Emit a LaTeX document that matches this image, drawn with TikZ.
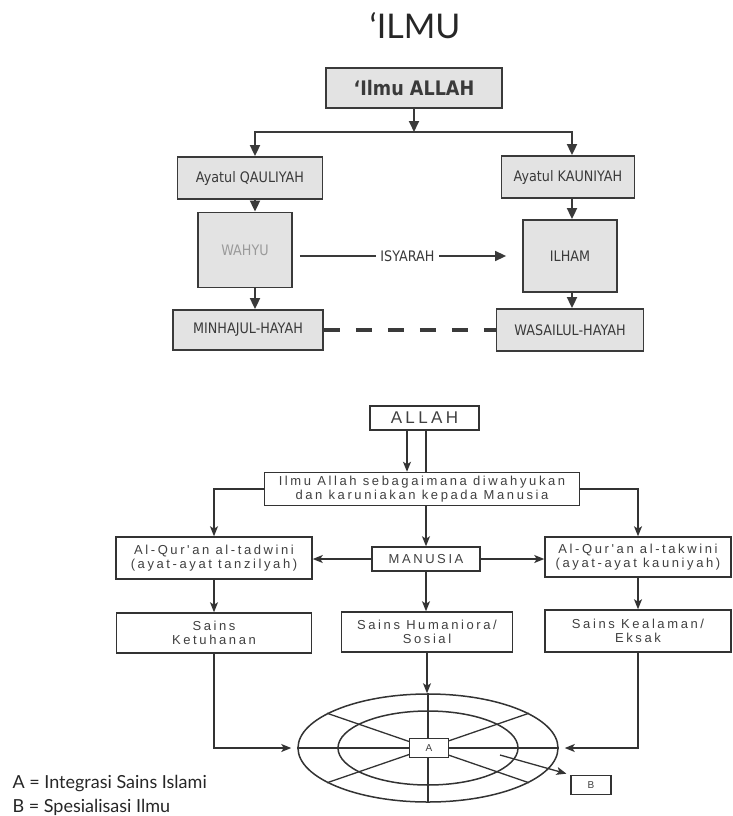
\documentclass[tikz,border=0pt]{standalone}
\usepackage{fontspec}
\setmainfont{Liberation Sans}
\newfontfamily\verd[FakeStretch=0.88]{DejaVu Sans}
\newfontfamily\spaced[LetterSpace=20]{Liberation Sans}
\newfontfamily\gill{Lato}
\usepackage{tikz}
\usetikzlibrary{shapes,arrows.meta,positioning}
\definecolor{boxgray}{HTML}{E3E3E3}
\definecolor{inkgray}{HTML}{3A3A3A}
\definecolor{lightink}{HTML}{9A9A9A}

\begin{document}
\begin{tikzpicture}[
    x=1pt, y=-1pt,
    topbox/.style={draw=inkgray, fill=boxgray, line width=1.8pt, inner sep=0pt,
        text=inkgray, font=\verd\fontsize{14.5}{17}\selectfont},
    botbox/.style={draw=black!80, fill=white, line width=1.5pt, inner sep=0pt,
        align=center, text=black!75, font=\spaced\fontsize{13}{14}\selectfont},
    toparrow/.style={-{Triangle[length=11pt,width=10pt]}, draw=inkgray, line width=1.8pt},
    botarrow/.style={-{Stealth[length=10pt,width=8pt,inset=2.5pt]}, draw=black!80, line width=1.3pt},
    botline/.style={draw=black!80, line width=1.3pt},
    ring/.style={ellipse, draw=black!80, line width=1.5pt, inner sep=0pt}
]
\useasboundingbox (0,0) rectangle (732,816);

% upper chart
\node[anchor=base, text=black!85, font=\gill\fontsize{34}{40}\selectfont] (title) at (415,39) {‘ILMU};
\node[topbox, minimum width=176pt, minimum height=40pt, font=\verd\bfseries\fontsize{20}{24}\selectfont] (ilmuallah) at (414,88) {‘Ilmu ALLAH};
\node[topbox, minimum width=145pt, minimum height=42pt] (qauliyah) at (250,178) {Ayatul QAULIYAH};
\node[topbox, minimum width=133pt, minimum height=42pt] (kauniyah) at (568,177) {Ayatul KAUNIYAH};
\node[topbox, minimum width=94pt, minimum height=75pt, text=lightink] (wahyu) at (245,250) {WAHYU};
\node[topbox, minimum width=94pt, minimum height=72pt] (ilham) at (570,256) {ILHAM};
\node[topbox, minimum width=150pt, minimum height=40pt] (minhajul) at (248,330) {MINHAJUL-HAYAH};
\node[topbox, minimum width=147pt, minimum height=42pt] (wasailul) at (570,330) {WASAILUL-HAYAH};

\coordinate (split) at (414,132);
\coordinate (lcol) at (255,0);
\coordinate (rcol) at (572,0);

\draw[toparrow] (ilmuallah) -- (split);
\draw[toparrow] (split) -| (qauliyah.north -| lcol);
\draw[toparrow] (split) -| (kauniyah.north -| rcol);
\draw[toparrow] (qauliyah.south -| lcol) -- (wahyu.north -| lcol);
\draw[toparrow] (kauniyah.south -| rcol) -- (ilham.north -| rcol);
\draw[toparrow] (wahyu.south -| lcol) -- (minhajul.north -| lcol);
\draw[toparrow] (ilham.south -| rcol) -- (wasailul.north -| rcol);
\draw[toparrow, line width=1.5pt, shorten <=7pt, shorten >=16pt] (wahyu.east |- ilham) --
    node[fill=white, text=inkgray, inner sep=4pt, font=\verd\fontsize{14.5}{17}\selectfont] (isyarah) {ISYARAH} (ilham.west);
\draw[draw=inkgray, line width=4pt, dash pattern=on 16pt off 16pt] (minhajul.east) -- (wasailul.west);

% lower chart
\node[botbox, minimum width=109pt, minimum height=24pt, font=\spaced\fontsize{17}{18}\selectfont] (allah) at (424.5,418) {ALLAH};
\node[botbox, minimum width=315pt, minimum height=33pt] (ilmubox) at (422,489) {Ilmu Allah sebagaimana diwahyukan\\dan karuniakan kepada Manusia};
\node[botbox, minimum width=196pt, minimum height=42pt] (tadwini) at (214,558) {Al-Qur'an al-tadwini\\(ayat-ayat tanzilyah)};
\node[botbox, minimum width=108pt, minimum height=24pt] (manusia) at (426,559) {MANUSIA};
\node[botbox, minimum width=186pt, minimum height=40pt] (takwini) at (638,557) {Al-Qur'an al-takwini\\(ayat-ayat kauniyah)};
\node[botbox, minimum width=195pt, minimum height=40pt] (ketuhanan) at (214,633) {Sains\\Ketuhanan};
\node[botbox, minimum width=171pt, minimum height=40pt] (humaniora) at (427,632) {Sains Humaniora/\\Sosial};
\node[botbox, minimum width=186pt, minimum height=42pt] (kealaman) at (638,631) {Sains Kealaman/\\Eksak};

\coordinate (downA) at (407,430);
\coordinate (downB) at (426,430);
\draw[botarrow] (downA) -- (downA |- ilmubox.north);
\draw[botline] (downB) -- (downB |- ilmubox.north);
\draw[botarrow] (ilmubox.west) -| (tadwini.north);
\draw[botarrow] (ilmubox.east) -| (takwini.north);
\draw[botarrow] (ilmubox.south -| manusia) -- (manusia.north);
\draw[botarrow] (manusia) -- (tadwini.east |- manusia);
\draw[botarrow] (manusia) -- (takwini.west |- manusia);
\draw[botarrow] (tadwini) -- (ketuhanan);
\draw[botarrow] (manusia) -- (humaniora.north -| manusia);
\draw[botarrow] (takwini) -- (kealaman);

% rings
\node[ring, minimum width=260pt, minimum height=108pt] (outer) at (428,748) {};
\node[ring, minimum width=180pt, minimum height=74pt] (inner) at (428,748) {};
\draw[botline] (outer.north) -- (outer.south);
\draw[botline] (outer.west) -- (outer.east);
\draw[botline] (outer.19) -- (outer.199);
\draw[botline] (outer.161) -- (outer.341);
\node[botbox, minimum width=39pt, minimum height=19pt, font=\fontsize{10}{12}\selectfont] (abox) at (429,748) {A};
\node[botbox, minimum width=40pt, minimum height=19pt, font=\fontsize{10}{12}\selectfont] (bbox) at (591,785) {B};

\draw[botarrow] (ketuhanan.south) |- ([xshift=-6pt]outer.west);
\draw[botarrow] (kealaman.south) |- ([xshift=6pt]outer.east);
\draw[botarrow] (humaniora.south) -- (humaniora.south |- outer.north);
\coordinate (bfrom) at (500,755);
\draw[botarrow, shorten >=4pt] (bfrom) -- (bbox.north west);

% legend
\node[anchor=base west, text=black!85, font=\gill\fontsize{18}{21}\selectfont] (legA) at (9,788) {A = Integrasi Sains Islami};
\node[anchor=base west, text=black!85, font=\gill\fontsize{18}{21}\selectfont] (legB) at (9,812) {B = Spesialisasi Ilmu};
\end{tikzpicture}
\end{document}
